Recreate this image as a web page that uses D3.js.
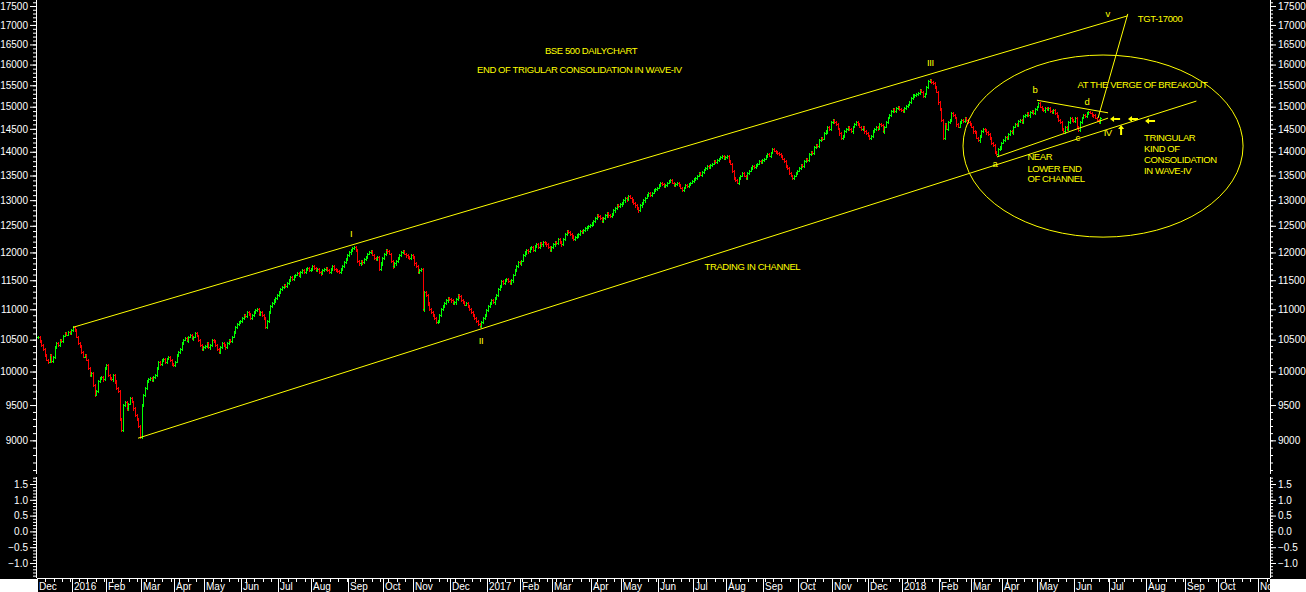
<!DOCTYPE html>
<html>
<head>
<meta charset="utf-8" />
<title>BSE 500 Daily Chart</title>
<script src="https://d3js.org/d3.v7.min.js"></script>
<style>
  body { margin: 0; background: #000; }
  svg { display: block; }
</style>
</head>
<body>
<svg width="1306" height="592"></svg>
<script>
// daily closes, one array per month
const dec15 = [10550,10480,10420,10350,10250,10180,10150,10250,10160,10230,10380,10450,10420,10500,10480,10560,10600,10580,10620,10600,10650];
const jan16 = [10700,10650,10550,10450,10400,10300,10230,10250,10180,10050,9950,9980,9800,9650,9700,9850,9900,9920,9880,10050];
const feb16 = [10100,9950,9900,9880,9950,9850,9750,9700,9300,9150,9500,9550,9450,9520,9600,9550,9450,9350,9300,9200,9050];
const mar16 = [9500,9650,9750,9850,9880,9900,9870,9920,9950,10050,10150,10120,10180,10200,10150,10200,10220,10180,10120,10100];
const apr16 = [10150,10250,10300,10350,10450,10500,10520,10480,10550,10570,10520,10550,10600,10560,10500,10420,10350,10380];
const may16 = [10400,10450,10380,10420,10500,10480,10420,10350,10300,10380,10450,10420,10380,10450,10500,10480,10550,10620,10700,10750,10780,10800];
const jun16 = [10850,10900,10880,10950,10920,10850,10900,10950,10980,11000,10920,10950,10900,10850,10700,10800,10950,11050,11100,11150,11200,11250];
const jul16 = [11300,11350,11380,11420,11400,11450,11500,11550,11520,11580,11600,11620,11580,11650,11680,11650,11700,11720,11680,11700];
const aug16 = [11750,11720,11680,11700,11650,11620,11680,11700,11720,11680,11650,11700,11750,11700,11680,11660,11640,11700,11750,11820,11880,11950];
const sep16 = [12000,12050,12080,12100,12050,11850,11800,11850,11820,11880,11920,11980,12000,12020,11960,11900,11880,11920,11700,11800,11900];
const oct16 = [11980,12050,12020,11980,11850,11750,11800,11850,11900,11950,12000,12020,11980,11950,11920,11900,11950,11920];
const nov16 = [11800,11750,11650,11680,11700,11000,11300,11250,11100,11000,10950,10900,10850,10780,10800,10900,11000,11050,11100,11150,11200,11180];
const dec16 = [11150,11100,11120,11180,11250,11220,11150,11120,11080,11100,11050,11000,10950,10900,10850,10800,10750,10720,10780,10850,10900,10980];
const jan17 = [11050,11100,11150,11120,11200,11250,11350,11400,11480,11450,11500,11520,11480,11450,11500,11600,11680,11750,11820,11800];
const feb17 = [11850,11950,12000,12050,12020,12080,12100,12050,12120,12150,12100,12180,12150,12200,12180,12150,12100,12050,12100];
const mar17 = [12150,12200,12180,12250,12200,12150,12250,12350,12400,12380,12350,12300,12250,12280,12320,12350,12400,12380,12420,12450,12480,12500,12520];
const apr17 = [12550,12600,12650,12700,12680,12650,12600,12650,12700,12750,12700,12680,12720,12800,12850,12900,12880,12920];
const may17 = [12950,13000,13050,13020,13080,13050,13000,12950,12900,12850,12800,12900,12950,13000,13050,13100,13150,13100,13150,13200,13220,13250];
const jun17 = [13300,13350,13320,13280,13300,13350,13380,13400,13350,13300,13320,13350,13300,13250,13200,13250,13300,13280,13320,13350,13380];
const jul17 = [13420,13450,13500,13550,13520,13580,13620,13650,13700,13680,13720,13750,13800,13780,13820,13850,13880,13900,13850,13880];
const aug17 = [13900,13800,13750,13600,13450,13400,13350,13450,13500,13550,13500,13450,13550,13600,13650,13700,13680,13720,13750,13800,13780,13820];
const sep17 = [13850,13900,13950,13920,13980,14050,14020,14000,13980,13950,13900,13850,13800,13700,13650,13550,13500,13450,13500,13550,13600];
const oct17 = [13650,13720,13700,13800,13850,13830,13950,14000,13980,14100,14150,14120,14250,14300,14280,14400,14450,14550,14500,14650];
const nov17 = [14700,14650,14600,14500,14400,14300,14350,14450,14500,14550,14500,14450,14550,14600,14650,14600,14550,14500,14550,14450,14400,14350];
const dec17 = [14300,14350,14450,14500,14550,14500,14600,14580,14450,14550,14650,14750,14800,14900,14950,14900,14980,15000,14950,14920];
const jan18 = [14900,14980,15020,15050,15100,15200,15260,15280,15300,15320,15380,15350,15250,15300,15450,15600,15630,15580,15550,15450,15350,15100];
const feb18 = [14950,14700,14300,14600,14500,14650,14700,14850,14800,14750,14600,14550,14650,14700,14680,14750,14700,14650,14600];
const mar18 = [14550,14450,14420,14300,14250,14350,14450,14500,14480,14420,14380,14300,14200,14150,14000,13950,14050,14100,14200];
const apr18 = [14250,14320,14300,14380,14450,14420,14550,14600,14580,14680,14700,14650,14780,14800,14850,14800,14880,14900,14860,14950,15000];
const may18 = [15080,15000,14950,14920,14980,14950,14970,14900,14880,14920,14850,14780,14700,14650,14500,14450,14550,14500,14650,14750,14700,14680];
const jun18 = [14750,14550,14480,14650,14750,14800,14780,14850,14870,14860,14820,14800,14750,14700,14650,14750];

const closes = [].concat(dec15, jan16, feb16, mar16, apr16, may16, jun16, jul16, aug16, sep16, oct16, nov16,
  dec16, jan17, feb17, mar17, apr17, may17, jun17, jul17, aug17, sep17, oct17, nov17,
  dec17, jan18, feb18, mar18, apr18, may18, jun18);

// x axis: month labels and trading sessions in each month
const monthLabels = ["Dec","2016","Feb","Mar","Apr","May","Jun","Jul","Aug","Sep","Oct","Nov",
  "Dec","2017","Feb","Mar","Apr","May","Jun","Jul","Aug","Sep","Oct","Nov",
  "Dec","2018","Feb","Mar","Apr","May","Jun","Jul","Aug","Sep","Oct","Nov"];
const monthDays = [21,20,21,20,18,22,22,20,22,21,18,22,
  22,20,19,23,18,22,21,20,22,21,20,22,
  20,22,19,19,21,22,21,22,23,20,24,7];

const priceTicks = [9000,9500,10000,10500,11000,11500,12000,12500,13000,13500,14000,14500,15000,15500,16000,16500,17000,17500];
const lowerTicks = [1.5, 1.0, 0.5, 0.0, -0.5, -1.0];

// hand drawn trend lines [session, price]
const trendLines = [
  [[21.5, 10700], [652, 17240]],   // upper channel
  [[60.4, 9030], [693, 15130]],    // lower channel
  [[573.8, 13890], [640.2, 14740]],// a - IV
  [[597.7, 15150], [640.2, 14860]],// b - d
  [[634.2, 14740], [652, 17290]]   // target
];
const circleNote = { center: [637.2, 14120], halfWidth: 83.7, top: 16235, bottom: 12285 };
const leftArrows = [[644.4, 14720], [655.1, 14720], [665.3, 14670]];
const upArrows = [[648, 14470]];

const notes = [
  ["BSE 500 DAILYCHART", 303.6, 16360, "start"],
  ["END OF TRIGULAR CONSOLIDATION IN WAVE-IV", 263, 15890, "start"],
  ["TGT-17000", 658, 17180, "start"],
  ["v", 640, 17290, "middle"],
  ["III", 534, 16040, "middle"],
  ["I", 187.7, 12360, "middle"],
  ["II", 265.4, 10490, "middle"],
  ["AT THE VERGE OF BREAKOUT", 622, 15530, "start"],
  ["b", 596.5, 15390, "middle"],
  ["d", 627.6, 15110, "middle"],
  ["c", 622, 14300, "middle"],
  ["a", 572.6, 13760, "middle"],
  ["IV", 640, 14410, "middle"],
  ["NEAR", 592, 13890, "start"],
  ["LOWER END", 592, 13650, "start"],
  ["OF CHANNEL", 592, 13430, "start"],
  ["TRINGULAR", 661.7, 14300, "start"],
  ["KIND OF", 661.7, 14060, "start"],
  ["CONSOLIDATION", 661.7, 13840, "start"],
  ["IN WAVE-IV", 661.7, 13610, "start"],
  ["TRADING IN CHANNEL", 399, 11750, "start"]
];

const svg = d3.select("svg");
const W = 1306, H = 592;
const font = "'Liberation Sans', Arial, sans-serif";
svg.append("rect").attr("width", W).attr("height", H).attr("fill", "#000");

const x = d3.scaleLinear().domain([0, d3.sum(monthDays)]).range([37, 1270]);
const y = d3.scaleLog().domain([8535, 17662]).range([475, 0]);
const yl = d3.scaleLinear().domain([-1.475, 1.785]).range([578, 475]);

// price bars: open = previous close, with open and close ticks
const prev = (d, i) => (i ? closes[i - 1] : d);
const bar = svg.append("g")
  .selectAll("g")
  .data(closes)
  .join("g")
  .attr("fill", (d, i) => (d < prev(d, i)) ? "#ff0000" : "#00ff00");
bar.append("rect")
  .attr("x", (d, i) => Math.round(x(i + 0.5)))
  .attr("width", 1)
  .attr("y", (d, i) => Math.round(y(Math.max(d, prev(d, i)))) - 1)
  .attr("height", (d, i) => Math.max(2, Math.round(Math.abs(y(d) - y(prev(d, i)))) + 3));
bar.append("rect")
  .attr("x", (d, i) => Math.round(x(i + 0.5)) + 1)
  .attr("width", 1)
  .attr("y", d => Math.round(y(d)))
  .attr("height", 1);
bar.append("rect")
  .attr("x", (d, i) => Math.round(x(i + 0.5)) - 1)
  .attr("width", 1)
  .attr("y", (d, i) => Math.round(y(prev(d, i))))
  .attr("height", 1);

// annotations
const ann = svg.append("g").attr("stroke", "#ffff00").attr("fill", "none");
const line = d3.line().x(d => x(d[0])).y(d => y(d[1]));
ann.selectAll("path.trend").data(trendLines).join("path").attr("class", "trend").attr("d", line);
ann.append("ellipse")
  .attr("cx", x(circleNote.center[0]))
  .attr("cy", (y(circleNote.top) + y(circleNote.bottom)) / 2)
  .attr("rx", x(circleNote.center[0] + circleNote.halfWidth) - x(circleNote.center[0]))
  .attr("ry", (y(circleNote.bottom) - y(circleNote.top)) / 2);

const arrows = svg.append("g").attr("fill", "#ffff00");
leftArrows.forEach(a => {
  const cx = x(a[0]), cy = Math.round(y(a[1]));
  arrows.append("path").attr("d", `M${cx - 5},${cy} L${cx - 1},${cy - 3} L${cx - 1},${cy + 3} Z`);
  arrows.append("rect").attr("x", cx - 1).attr("y", cy - 1).attr("width", 6).attr("height", 2);
});
upArrows.forEach(a => {
  const cx = x(a[0]), cy = Math.round(y(a[1]));
  arrows.append("path").attr("d", `M${cx},${cy - 5} L${cx - 3},${cy - 1} L${cx + 3},${cy - 1} Z`);
  arrows.append("rect").attr("x", cx - 1).attr("y", cy - 1).attr("width", 2).attr("height", 6);
});

svg.append("g")
  .selectAll("text")
  .data(notes)
  .join("text")
  .attr("x", d => x(d[1]))
  .attr("y", d => y(d[2]) + 3.5)
  .attr("text-anchor", d => d[3])
  .attr("fill", "#ffff00")
  .attr("font-family", font)
  .attr("font-size", 9.5)
  .attr("letter-spacing", -0.4)
  .text(d => d[0]);

// value axes
function valueAxis(axisFn, xpos, scale, major, minor, fmt, span) {
  const g = svg.append("g").attr("transform", `translate(${xpos},0)`);
  g.append("g").call(axisFn(scale).tickValues(minor).tickSize(3).tickFormat("").tickSizeOuter(0));
  g.append("g").call(axisFn(scale).tickValues(major).tickSize(6).tickPadding(2).tickFormat(fmt).tickSizeOuter(0));
  g.selectAll("g").attr("font-family", font).attr("font-size", 10);
  g.selectAll("path.domain").remove();
  g.append("line").attr("x1", 0.5).attr("x2", 0.5).attr("y1", span[0]).attr("y2", span[1]);
  g.selectAll("line").attr("stroke", "#fff");
  g.selectAll("text").attr("fill", "#fff");
}
const priceMinor = d3.range(8600, 17700, 100);
const lowMinor = d3.range(-14, 18).map(v => v / 10);
valueAxis(d3.axisLeft, 36, y, priceTicks, priceMinor, d3.format("d"), [0, 474]);
valueAxis(d3.axisLeft, 36, yl, lowerTicks, lowMinor, d3.format(".1f"), [477, 578]);
valueAxis(d3.axisRight, 1270, y, priceTicks, priceMinor, d3.format("d"), [0, 474]);
valueAxis(d3.axisRight, 1270, yl, lowerTicks, lowMinor, d3.format(".1f"), [477, 578]);

// time axis
const starts = Array.from(d3.cumsum(monthDays), (c, k) => c - monthDays[k]);
const xa = svg.append("g").attr("stroke", "#fff");
xa.append("line").attr("x1", 37).attr("x2", 1270).attr("y1", 578.5).attr("y2", 578.5);
xa.selectAll("line.week").data(d3.range(0, d3.sum(monthDays), 5)).join("line").attr("class", "week")
  .attr("x1", d => Math.round(x(d)) + 0.5).attr("x2", d => Math.round(x(d)) + 0.5)
  .attr("y1", 578).attr("y2", 582);
xa.selectAll("line.month").data(starts).join("line").attr("class", "month")
  .attr("x1", d => Math.round(x(d)) + 0.5).attr("x2", d => Math.round(x(d)) + 0.5)
  .attr("y1", 578).attr("y2", 592);
svg.append("g").selectAll("text").data(starts).join("text")
  .attr("x", d => Math.round(x(d)) + 2)
  .attr("y", 590)
  .attr("fill", "#fff")
  .attr("font-family", font)
  .attr("font-size", 10)
  .text((d, k) => monthLabels[k]);

// white corners under the value axes
svg.append("rect").attr("x", 0).attr("y", 579).attr("width", 37).attr("height", 13).attr("fill", "#fff");
svg.append("rect").attr("x", 1270).attr("y", 579).attr("width", 36).attr("height", 13).attr("fill", "#fff");
</script>
</body>
</html>
